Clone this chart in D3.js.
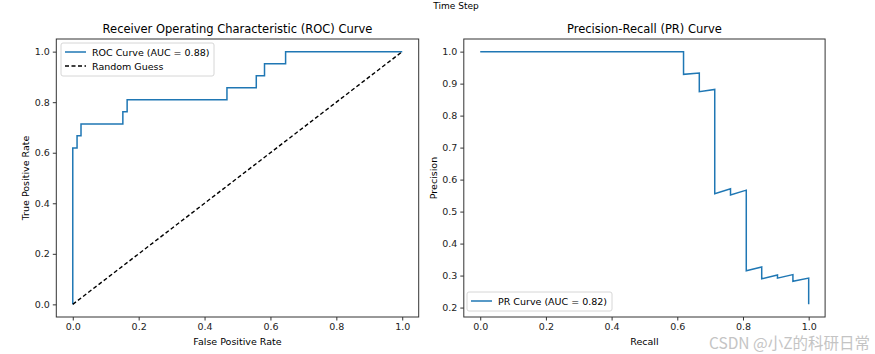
<!DOCTYPE html>
<html>
<head>
<meta charset="utf-8">
<script src="https://cdn.jsdelivr.net/npm/d3@7"></script>
<style>
  body { margin: 0; background: #fff; }
  svg { display: block; font-family: 'DejaVu Sans', sans-serif; }
</style>
</head>
<body>
<svg id="chart"></svg>
<script>
// ROC curve points (false positive rate, true positive rate)
const rocFpr = [0, 0, 0.013, 0.013, 0.025, 0.025, 0.152, 0.152, 0.165, 0.165, 0.468, 0.468, 0.557, 0.557, 0.582, 0.582, 0.646, 0.646, 1.0];
const rocTpr = [0, 0.619, 0.619, 0.667, 0.667, 0.714, 0.714, 0.762, 0.762, 0.810, 0.810, 0.857, 0.857, 0.905, 0.905, 0.952, 0.952, 1.0, 1.0];
const rocAuc = 0.88;

// Precision-recall points
const prRecall = [0, 0.048, 0.619, 0.619, 0.667, 0.667, 0.714, 0.714, 0.762, 0.762, 0.810, 0.810, 0.857, 0.857, 0.905, 0.905, 0.952, 0.952, 1.0, 1.0];
const prPrecision = [1.0, 1.0, 1.0, 0.929, 0.933, 0.875, 0.882, 0.556, 0.571, 0.552, 0.567, 0.315, 0.327, 0.290, 0.302, 0.292, 0.303, 0.282, 0.292, 0.21];
const prAuc = 0.82;

const unitTicks = [0, 0.2, 0.4, 0.6, 0.8, 1.0];
const prYTicks = [0.2, 0.3, 0.4, 0.5, 0.6, 0.7, 0.8, 0.9, 1.0];

const width = 875, height = 354;
const blue = '#1f77b4';
const tickFont = '9.5px';

const svg = d3.select('#chart')
  .attr('width', width)
  .attr('height', height)
  .attr('viewBox', [0, 0, width, height]);

svg.append('text')
  .attr('x', 456).attr('y', 9)
  .attr('text-anchor', 'middle')
  .attr('font-size', '9px')
  .text('Time Step');

// draws one matplotlib-like axes box and returns the scales
function panel({left, right, top, bottom, xDomain, yDomain, xTicks, yTicks, title, xLabel, yLabel}) {
  const x = d3.scaleLinear(xDomain, [left, right]);
  const y = d3.scaleLinear(yDomain, [bottom, top]);
  const g = svg.append('g');

  g.append('g')
    .attr('transform', `translate(0,${bottom})`)
    .call(d3.axisBottom(x).tickValues(xTicks).tickFormat(d3.format('.1f')).tickSize(3.5).tickPadding(3))
    .call(a => a.select('.domain').remove())
    .call(a => a.selectAll('text').attr('font-size', tickFont).attr('font-family', 'DejaVu Sans').attr('fill', '#222'))
    .call(a => a.selectAll('.tick line').attr('stroke', '#333'));

  g.append('g')
    .attr('transform', `translate(${left},0)`)
    .call(d3.axisLeft(y).tickValues(yTicks).tickFormat(d3.format('.1f')).tickSize(3.5).tickPadding(3))
    .call(a => a.select('.domain').remove())
    .call(a => a.selectAll('text').attr('font-size', tickFont).attr('font-family', 'DejaVu Sans').attr('fill', '#222'))
    .call(a => a.selectAll('.tick line').attr('stroke', '#333'));

  g.append('text')
    .attr('x', (left + right) / 2).attr('y', top - 6)
    .attr('text-anchor', 'middle')
    .attr('font-size', '11.5px')
    .text(title);

  g.append('text')
    .attr('x', (left + right) / 2).attr('y', bottom + 28)
    .attr('text-anchor', 'middle')
    .attr('font-size', '9.5px')
    .text(xLabel);

  g.append('text')
    .attr('transform', `translate(${left - 27},${(top + bottom) / 2}) rotate(-90)`)
    .attr('text-anchor', 'middle')
    .attr('font-size', '9.5px')
    .text(yLabel);

  return {x, y, g, frame: () => g.append('rect')
    .attr('x', left).attr('y', top)
    .attr('width', right - left).attr('height', bottom - top)
    .attr('fill', 'none').attr('stroke', '#333').attr('stroke-width', 1)};
}

function legend(g, x0, y0, w, items) {
  const rowH = 14;
  g.append('rect')
    .attr('x', x0).attr('y', y0)
    .attr('width', w).attr('height', items.length * rowH + 5)
    .attr('rx', 2)
    .attr('fill', '#fff').attr('fill-opacity', 0.85)
    .attr('stroke', '#d6d6d6');
  items.forEach((it, i) => {
    const cy = y0 + 9 + i * rowH;
    g.append('line')
      .attr('x1', x0 + 4).attr('x2', x0 + 25)
      .attr('y1', cy).attr('y2', cy)
      .attr('stroke', it.color).attr('stroke-width', 1.5)
      .attr('stroke-dasharray', it.dash || null);
    g.append('text')
      .attr('x', x0 + 31).attr('y', cy + 3.5)
      .attr('font-size', '9.5px')
      .text(it.label);
  });
}

// ROC panel
const roc = panel({
  left: 56.3, right: 418.7, top: 39, bottom: 317,
  xDomain: [-0.05, 1.05], yDomain: [-0.05, 1.05],
  xTicks: unitTicks, yTicks: unitTicks,
  title: 'Receiver Operating Characteristic (ROC) Curve',
  xLabel: 'False Positive Rate', yLabel: 'True Positive Rate'
});

const rocLine = d3.line()
  .x(i => roc.x(rocFpr[i]))
  .y(i => roc.y(rocTpr[i]));

roc.g.append('path')
  .attr('d', rocLine(d3.range(rocFpr.length)))
  .attr('fill', 'none').attr('stroke', blue).attr('stroke-width', 1.5);

roc.g.append('line')
  .attr('x1', roc.x(0)).attr('y1', roc.y(0))
  .attr('x2', roc.x(1)).attr('y2', roc.y(1))
  .attr('stroke', '#000').attr('stroke-width', 1.4)
  .attr('stroke-dasharray', '4,2.5');

roc.frame();
legend(roc.g, 61, 43, 153, [
  {label: `ROC Curve (AUC = ${rocAuc.toFixed(2)})`, color: blue},
  {label: 'Random Guess', color: '#000', dash: '4,2.5'}
]);

// PR panel
const prMin = d3.min(prPrecision), prMax = d3.max(prPrecision);
const pad = (prMax - prMin) * 0.05;
const pr = panel({
  left: 463.8, right: 825.1, top: 39, bottom: 317,
  xDomain: [-0.05, 1.05], yDomain: [prMin - pad, prMax + pad],
  xTicks: unitTicks, yTicks: prYTicks,
  title: 'Precision-Recall (PR) Curve',
  xLabel: 'Recall', yLabel: 'Precision'
});

const prLine = d3.line()
  .x(i => pr.x(prRecall[i]))
  .y(i => pr.y(prPrecision[i]));

pr.g.append('path')
  .attr('d', prLine(d3.range(prRecall.length)))
  .attr('fill', 'none').attr('stroke', blue).attr('stroke-width', 1.5);

pr.frame();
legend(pr.g, 467, 292, 145, [
  {label: `PR Curve (AUC = ${prAuc.toFixed(2)})`, color: blue}
]);

// watermark
svg.append('text')
  .attr('x', 870).attr('y', 349)
  .attr('text-anchor', 'end')
  .attr('font-family', "'Noto Sans CJK SC', sans-serif")
  .attr('font-size', '15.5px')
  .attr('fill', '#c4c4c4')
  .text('CSDN @小Z的科研日常');
</script>
</body>
</html>
